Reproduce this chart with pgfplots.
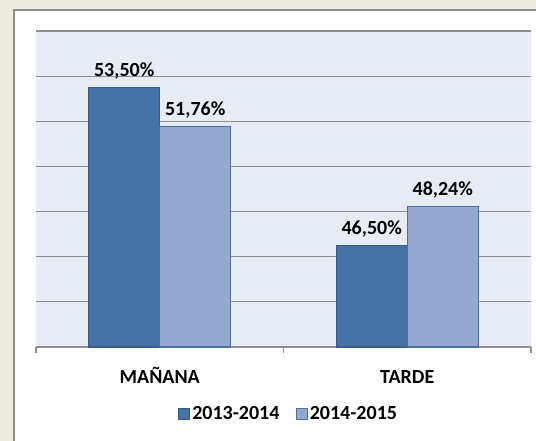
\documentclass[border=0pt]{standalone}
\usepackage{fontspec}
\setmainfont{Carlito}
\usepackage{pgfplots}
\pgfplotsset{compat=1.18}
\definecolor{bgbeige}{HTML}{EEEBE0}
\definecolor{plotbg}{HTML}{E8ECF4}
\definecolor{darkbar}{HTML}{4572A7}
\definecolor{darkedge}{HTML}{385D8A}
\definecolor{lightbar}{HTML}{95A8CF}
\definecolor{lightedge}{HTML}{4D6F9E}
\definecolor{gridgray}{HTML}{8E8E8E}
\newcommand{\lblfont}{\bfseries\fontsize{20}{23}\selectfont}
\begin{document}
\begin{tikzpicture}[x=1pt,y=1pt]
\useasboundingbox (0,0) rectangle (536,441);
\fill[bgbeige] (0,0) rectangle (536,441);
\fill[white] (14,0) rectangle (537,431);
\draw[gridgray,line width=1.5pt] (14,-2) -- (14,431) -- (538,431);
\begin{axis}[
  at={(36pt,94pt)}, anchor=south west,
  scale only axis, width=495pt, height=316pt,
  xmin=-0.5, xmax=1.5, ymin=42, ymax=56,
  clip=false,
  /pgf/number format/assume math mode=true,
  axis background/.style={fill=plotbg},
  ybar=0pt, bar width=71pt,
  axis x line*=bottom, axis y line*=left,
  y axis line style={draw=none},
  x axis line style={gridgray, line width=1.2pt, -},
  ytick={42,44,...,56}, yticklabels={}, ytick style={draw=none},
  ymajorgrids, grid style={gridgray, line width=1.2pt},
  xtick={0,1}, xticklabels={MAÑANA,TARDE},
  major x tick style={draw=none},
  minor xtick={-0.5,0.5,1.5},
  minor x tick style={gridgray,line width=1.2pt},
  tick align=outside, major tick length=0pt, minor tick length=6pt,
  xticklabel style={font=\lblfont, anchor=base, yshift=-37pt},
  nodes near coords={\pgfmathprintnumber[fixed,fixed zerofill,precision=2,use comma,assume math mode=true]{\pgfplotspointmeta}\%},
  every node near coord/.append style={font=\lblfont, anchor=base, yshift=11pt},
  legend style={at={(0.5101,-0.212)}, anchor=center, draw=none, fill=none,
    legend columns=2, font=\lblfont,
    /tikz/every even column/.append style={column sep=14pt}},
]
\addplot[fill=darkbar, draw=darkedge, line width=1.3pt,
  legend image code/.code={\draw[fill=darkbar, draw=darkedge, line width=1.3pt] (0pt,-5.5pt) rectangle (11pt,5.5pt);}]
  coordinates {(0,53.50) (1,46.50)};
\addplot[fill=lightbar, draw=lightedge, line width=1.3pt,
  legend image code/.code={\draw[fill=lightbar, draw=lightedge, line width=1.3pt] (0pt,-5.5pt) rectangle (11pt,5.5pt);}]
  coordinates {(0,51.76) (1,48.24)};
\legend{2013-2014,2014-2015}
\end{axis}
\end{tikzpicture}
\end{document}
